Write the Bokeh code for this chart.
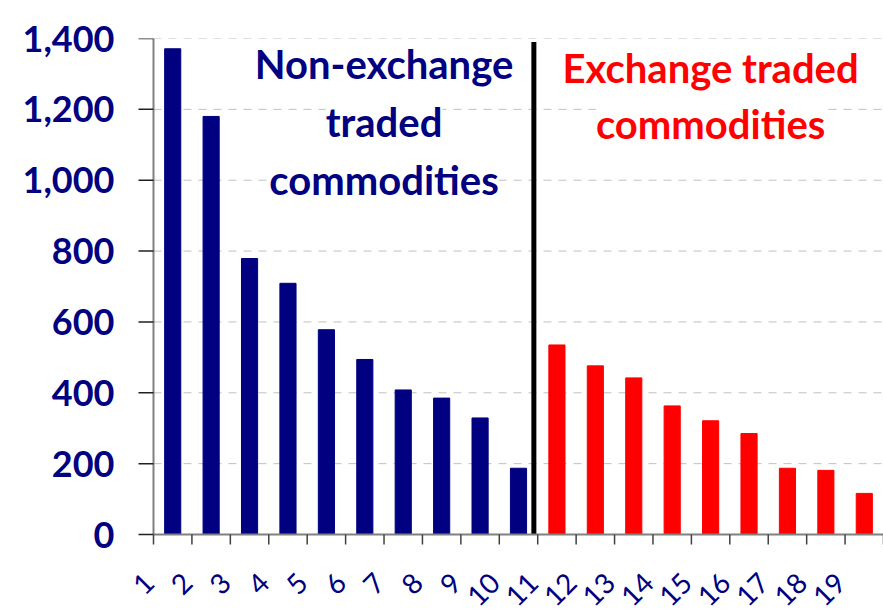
from bokeh.plotting import figure
from bokeh.models import (Range1d, FixedTicker, NumeralTickFormatter, Label)
from bokeh.core.properties import value
from bokeh.embed import file_html
from bokeh.resources import INLINE
from math import pi

# ---- data ----
categories = [str(i) for i in range(1, 20)]
non_exchange_values = [1371, 1180, 779, 709, 578, 494, 408, 385, 329, 187]
exchange_values = [535, 476, 442, 363, 321, 285, 187, 181, 116]
y_ticks = [0, 200, 400, 600, 800, 1000, 1200, 1400]
divider_x = 9.9
divider_top = 1390

NAVY = "#000080"
RED = "#FF0000"
FONT = "Lato"

# ---- layout (pixels) ----
W, H = 883, 613
AXIS_X, TOP = 153, 38            # pixel position of the value axis / top of 0..1400
PLOT_H = 496                     # pixels spanned by 0..1400
LEFT_PAD = 29                    # room left of the value axis for the first label
n_cat = len(categories)
Y_MAX = y_ticks[-1]
py_per_unit = PLOT_H / Y_MAX
px_per_cat = (W - AXIS_X) / n_cat
y_min = -(H - TOP - PLOT_H) / py_per_unit
x_min = -LEFT_PAD / px_per_cat
xtick_len = 10 / py_per_unit
ytick_len = 15 / px_per_cat

x_non = [i + 0.5 for i in range(len(non_exchange_values))]
x_exc = [len(non_exchange_values) + i + 0.5 for i in range(len(exchange_values))]
x_cat = [i + 0.5 for i in range(n_cat)]
bounds = list(range(n_cat + 1))

p = figure(width=W, height=H, output_backend="svg", toolbar_location=None,
           x_range=Range1d(x_min, n_cat), y_range=Range1d(y_min, Y_MAX),
           x_axis_location=None,
           min_border_left=AXIS_X - LEFT_PAD, min_border_right=0,
           min_border_top=TOP, min_border_bottom=0, outline_line_color=None)
p.background_fill_color = "white"
p.border_fill_color = "white"
p.xgrid.visible = False
p.ygrid.visible = False

# horizontal dashed gridlines, starting at the value axis
grid_y = y_ticks[1:]
p.segment(x0=[0] * len(grid_y), y0=grid_y, x1=[n_cat] * len(grid_y), y1=grid_y,
          line_color="#c0c0c0", line_dash="8 7", line_width=1)

# bars
p.vbar(x=x_non, top=non_exchange_values, width=0.42, color=NAVY)
p.vbar(x=x_exc, top=exchange_values, width=0.42, color=RED)

# divider between the two groups
p.segment(x0=[divider_x], y0=[0], x1=[divider_x], y1=[divider_top],
          line_color="black", line_width=5)

# category axis: line, tick marks at category boundaries, rotated labels
p.segment(x0=[0], y0=[0], x1=[n_cat], y1=[0], line_color="#808080", line_width=2)
p.segment(x0=bounds, y0=[0] * len(bounds), x1=bounds, y1=[-xtick_len] * len(bounds),
          line_color="#404040", line_width=1.5)
p.text(x=x_cat, y=[0] * n_cat, text=categories, angle=pi / 4,
       text_align="right", text_baseline="middle",
       x_offset=-24, y_offset=43,
       text_font=value(FONT), text_font_style="normal",
       text_font_size="28px", text_color=NAVY)

# value axis line and tick marks
p.segment(x0=[0], y0=[0], x1=[0], y1=[Y_MAX], line_color="#808080", line_width=2)
p.segment(x0=[-ytick_len] * len(y_ticks), y0=y_ticks, x1=[0] * len(y_ticks), y1=y_ticks,
          line_color="#202020", line_width=1.5)

# y axis (labels)
yax = p.yaxis[0]
yax.ticker = FixedTicker(ticks=y_ticks)
yax.formatter = NumeralTickFormatter(format="0,0")
yax.major_label_text_font = FONT
yax.major_label_text_font_style = "bold"
yax.major_label_text_font_size = "36px"
yax.major_label_text_color = NAVY
yax.major_tick_out = 0
yax.major_tick_in = 0
yax.minor_tick_out = 0
yax.minor_tick_in = 0
yax.axis_line_color = None
yax.major_label_standoff = 10

# annotations
left_lines = ["Non-exchange", "traded", "commodities"]
left_y = [1327, 1163, 1000]
right_lines = ["Exchange traded", "commodities"]
right_y = [1318, 1160]

for txt, yy in zip(left_lines, left_y):
    p.add_layout(Label(x=6.0, y=yy, text=txt, text_align="center",
                       text_baseline="middle", text_color=NAVY,
                       text_font=FONT, text_font_style="bold",
                       text_font_size="40px",
                       background_fill_color="white"))
for txt, yy in zip(right_lines, right_y):
    p.add_layout(Label(x=14.5, y=yy, text=txt, text_align="center",
                       text_baseline="middle", text_color=RED,
                       text_font=FONT, text_font_style="bold",
                       text_font_size="40px",
                       background_fill_color="white"))

open("out.html", "w").write(file_html(p, INLINE))
